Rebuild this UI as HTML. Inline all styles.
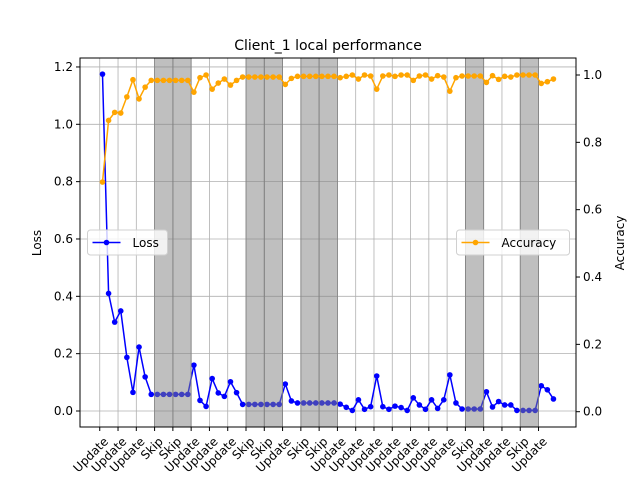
<!DOCTYPE html>
<html><head><meta charset="utf-8"><style>
body{margin:0;background:#fff}
svg{font-family:"DejaVu Sans","Liberation Sans",sans-serif}
</style></head><body>
<svg id="chart" width="640" height="480" viewBox="0 0 640 480" xmlns="http://www.w3.org/2000/svg">
<rect width="640" height="480" fill="#fff"/>
<text x="328" y="50" text-anchor="middle" font-size="14" fill="#000">Client_1 local performance</text>
<text transform="translate(41,243) rotate(-90)" text-anchor="middle" font-size="12">Loss</text>
<text transform="translate(624,243) rotate(-90)" text-anchor="middle" font-size="12">Accuracy</text>
<g id="grid"></g><g id="lossg"></g><g id="shade"></g><g id="accg"></g><g id="axes"></g><g id="legends"></g>
</svg>
<script>
const roundLabels=["Update","Update","Update","Skip","Skip","Update","Update","Update","Skip","Skip","Update","Skip","Skip","Update","Update","Update","Update","Update","Update","Update","Skip","Update","Update","Skip","Update"];
const lossTicks=[0.0,0.2,0.4,0.6,0.8,1.0,1.2];
const accTicks=[0.0,0.2,0.4,0.6,0.8,1.0];
const lossValues=[1.175,0.41,0.31,0.349,0.187,0.065,0.223,0.119,0.058,0.058,0.058,0.058,0.058,0.058,0.058,0.160,0.037,0.016,0.113,0.063,0.051,0.102,0.064,0.023,0.023,0.023,0.023,0.023,0.023,0.023,0.094,0.035,0.028,0.028,0.028,0.028,0.028,0.028,0.028,0.024,0.013,0.002,0.039,0.006,0.015,0.122,0.015,0.006,0.017,0.012,0.002,0.046,0.021,0.006,0.039,0.009,0.039,0.126,0.028,0.007,0.007,0.007,0.007,0.067,0.014,0.033,0.021,0.021,0.002,0.002,0.002,0.002,0.088,0.074,0.042];
const accValues=[0.682,0.865,0.889,0.887,0.935,0.986,0.929,0.964,0.984,0.984,0.984,0.984,0.984,0.984,0.984,0.949,0.992,1.0,0.958,0.976,0.988,0.970,0.984,0.994,0.994,0.994,0.994,0.994,0.994,0.994,0.972,0.990,0.996,0.996,0.996,0.996,0.996,0.996,0.996,0.992,0.996,1.0,0.988,1.0,0.997,0.958,0.997,1.0,0.996,1.0,1.0,0.984,0.997,1.0,0.988,0.998,0.994,0.952,0.992,0.997,0.997,0.997,0.997,0.978,0.998,0.987,0.996,0.994,1.0,1.0,1.0,1.0,0.975,0.980,0.988];

const NS="http://www.w3.org/2000/svg";
const L=80,R=576,T=58,B=427;
const xmin=-1.08,xmax=26.05;
const X=u=>L+(u-xmin)/(xmax-xmin)*(R-L);
const epochX=j=>X(j/3+0.15);
const YL=v=>411-v*286.7;
const YA=v=>411.7-v*336.7;
function mk(tag,attrs,parent){const e=document.createElementNS(NS,tag);for(const k in attrs)e.setAttribute(k,attrs[k]);parent.appendChild(e);return e;}
const grid=document.getElementById('grid'),axes=document.getElementById('axes');
// grid
roundLabels.forEach((l,i)=>{const g=mk('line',{x1:X(i),x2:X(i),y1:T,y2:B,stroke:'#b0b0b0','stroke-width':0.8},grid);

});
lossTicks.forEach(v=>{const g=mk('line',{x1:L,x2:R,y1:YL(v),y2:YL(v),stroke:'#b0b0b0','stroke-width':0.8},grid);

});
// loss series
const lossg=document.getElementById('lossg');
const lp=mk('polyline',{points:lossValues.map((v,j)=>epochX(j)+','+YL(v)).join(' '),fill:'none',stroke:'#0000ff','stroke-width':1.5},lossg);


lossValues.forEach((v,j)=>{const c=mk('circle',{cx:epochX(j),cy:YL(v),r:2.8,fill:'#0000ff'},lossg);

});
// shading for skip rounds
const shade=document.getElementById('shade');
roundLabels.forEach((l,i)=>{if(l==='Skip'){const r=mk('rect',{x:X(i),y:T,width:X(i+1)-X(i),height:B-T,fill:'#808080','fill-opacity':0.5,stroke:'#808080','stroke-width':0.8},shade);

}});
// accuracy series
const accg=document.getElementById('accg');
const ap=mk('polyline',{points:accValues.map((v,j)=>epochX(j)+','+YA(v)).join(' '),fill:'none',stroke:'#ffa500','stroke-width':1.5},accg);


accValues.forEach((v,j)=>{const c=mk('circle',{cx:epochX(j),cy:YA(v),r:2.8,fill:'#ffa500'},accg);

});
// frame
const fr=mk('rect',{x:L,y:T,width:R-L,height:B-T,fill:'none',stroke:'#000','stroke-width':1},axes);


// x ticks
roundLabels.forEach((l,i)=>{const x=X(i);
const t=mk('line',{x1:x,x2:x,y1:B,y2:B+4,stroke:'#000'},axes);


const tx=mk('text',{transform:`translate(${x+3},${B+9}) rotate(-45)`,'text-anchor':'end','dominant-baseline':'hanging','font-size':12},axes);
tx.textContent=l;

});
lossTicks.forEach(v=>{const y=YL(v);
const t=mk('line',{x1:L-4,x2:L,y1:y,y2:y,stroke:'#000'},axes);


const tx=mk('text',{x:L-7,y:y+4,'text-anchor':'end','font-size':12},axes);
tx.textContent=v.toFixed(1);

});
accTicks.forEach(v=>{const y=YA(v);
const t=mk('line',{x1:R,x2:R+4,y1:y,y2:y,stroke:'#000'},axes);


const tx=mk('text',{x:R+7,y:y+4,'font-size':12},axes);
tx.textContent=v.toFixed(1);

});
// legends
const lg=document.getElementById('legends');
function legend(x,w,color,label,name){const g=mk('g',{},lg);


mk('rect',{x:x,y:230,width:w,height:25,rx:3,fill:'#fff','fill-opacity':0.8,stroke:'#d0d0d0'},g);
mk('line',{x1:x+5,x2:x+33,y1:242.5,y2:242.5,stroke:color,'stroke-width':1.5},g);
mk('circle',{cx:x+19,cy:242.5,r:2.8,fill:color},g);
const t=mk('text',{x:x+45,y:247,'font-size':12},g);t.textContent=label;}
legend(87.5,80,'#0000ff','Loss','legend-loss');
legend(456.5,113,'#ffa500','Accuracy','legend-accuracy');
</script>
</body></html>
